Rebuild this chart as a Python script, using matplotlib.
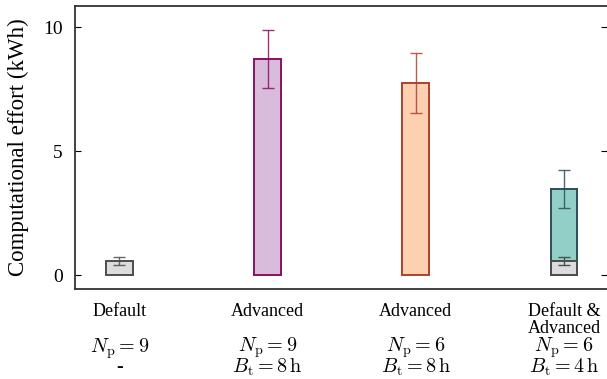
import numpy as np
import matplotlib
matplotlib.use("Agg")
import matplotlib.pyplot as plt
import matplotlib.transforms as mtransforms

plt.rcParams['font.family'] = 'serif'
plt.rcParams['font.serif'] = ['Liberation Serif', 'DejaVu Serif']
plt.rcParams['mathtext.fontset'] = 'cm'
plt.rcParams['font.size'] = 13

# data (kWh)
categories = ["Default", "Advanced", "Advanced", "Default &\nAdvanced"]
param_np = [r"$N_\mathrm{p} = 9$", r"$N_\mathrm{p} = 9$", r"$N_\mathrm{p} = 6$", r"$N_\mathrm{p} = 6$"]
param_bt = ["-", r"$B_\mathrm{t} = 8\,\mathrm{h}$", r"$B_\mathrm{t} = 8\,\mathrm{h}$", r"$B_\mathrm{t} = 4\,\mathrm{h}$"]
main_effort = [0.57, 8.71, 7.74, 3.47]
main_err = [0.17, 1.18, 1.20, 0.75]
default_part = 0.57   # default share stacked in the last bar
default_part_err = 0.17

fills = ["#dcdcdc", "#d9bbdb", "#fdd0b1", "#92cfc6"]
edges = ["#4d4d4d", "#8a0f63", "#b0402a", "#2e4d5a"]

fig = plt.figure(figsize=(6.07, 3.79), dpi=100)
ax = fig.add_axes([75/607, 1 - 289/379, 1 - 75/607, 283/379])

x = np.arange(len(categories))
w = 0.18
for i in x:
    ax.bar(i, main_effort[i], w, color=fills[i], edgecolor=edges[i], linewidth=1.4, zorder=2)
    ax.errorbar(i, main_effort[i], yerr=main_err[i], color=edges[i], capsize=4,
                elinewidth=1.0, capthick=1.0, alpha=0.85, zorder=3)

# default share inside the combined bar
ax.bar(x[3], default_part, w, color=fills[0], edgecolor=edges[0], linewidth=1.4, zorder=4)
ax.errorbar(x[3], default_part, yerr=default_part_err, color=edges[0], capsize=4,
            elinewidth=1.0, capthick=1.0, zorder=5)

ax.set_xlim(-0.3, 3.29)
ax.set_ylim(-0.56, 10.85)
ax.set_yticks([0, 5, 10])
ax.set_yticklabels(["0", "5", "10"], fontsize=14)
ax.set_ylabel("Computational effort (kWh)", fontsize=16.5, labelpad=10)
ax.set_xticks(x)
ax.set_xticklabels(categories, linespacing=1.0)
ax.tick_params(axis='x', length=0, pad=10)
ax.tick_params(axis='y', direction='in', length=4, left=True, right=True, width=0.8, pad=9)

for s in ['left', 'top', 'bottom']:
    ax.spines[s].set_color('#333333')
    ax.spines[s].set_linewidth(1.3)
ax.spines['right'].set_visible(False)

# parameter rows below each category, one text block per bar
trans = mtransforms.blended_transform_factory(ax.transData, fig.transFigure)
for i in x:
    ax.text(i, 1 - 357/379, param_np[i] + "\n" + param_bt[i], transform=trans,
            ha='center', va='center', ma='center', fontsize=14.5, linespacing=0.78)

fig.savefig("out.png", dpi=100)
